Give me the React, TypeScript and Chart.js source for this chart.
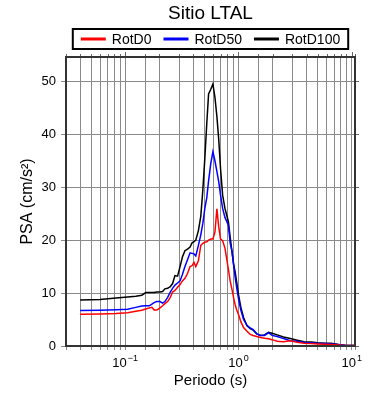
import React, { useEffect, useRef } from "react";
import { Chart, registerables } from "chart.js";

Chart.register(...registerables);

const TITLE = "Sitio LTAL";
const X_TITLE = "Periodo (s)";
const Y_TITLE = "PSA (cm/s²)";
const SERIES_LABELS = ["RotD0", "RotD50", "RotD100"];
const SERIES_COLORS = ["#ff0000", "#0000ff", "#000000"];

const periods = [
  0.04, 0.06, 0.083, 0.105, 0.124, 0.14, 0.152, 0.163, 0.172, 0.18,
  0.19, 0.203, 0.214, 0.224, 0.237, 0.25, 0.262, 0.275, 0.29, 0.305,
  0.32, 0.337, 0.355, 0.374, 0.39, 0.405, 0.42, 0.443, 0.465, 0.485,
  0.505, 0.525, 0.545, 0.57, 0.595, 0.62, 0.645, 0.67, 0.695, 0.725,
  0.76, 0.79, 0.815, 0.845, 0.875, 0.905, 0.935, 0.966, 1.0, 1.05,
  1.11, 1.19, 1.27, 1.35, 1.45, 1.57, 1.7, 1.84, 1.98, 2.2,
  2.5, 2.87, 3.3, 3.8, 4.4, 5.0, 5.8, 6.6, 7.6, 8.7,
  10.0, 11.0,
];

const rotD0 = [
  6.0, 6.05, 6.15, 6.3, 6.55, 6.75, 7.0, 7.2, 7.3, 6.8,
  6.8, 7.2, 7.6, 8.0, 8.4, 9.2, 10.2, 10.5, 11.1, 11.6,
  12.3, 12.8, 13.7, 15.0, 15.2, 15.8, 15.0, 16.1, 19.0, 19.4,
  19.6, 19.7, 20.0, 20.2, 20.2, 21.5, 25.9, 22.5, 20.2, 19.9,
  18.5, 16.3, 14.5, 12.3, 10.8, 9.2, 7.8, 6.8, 6.0, 4.6,
  3.5, 2.8, 2.2, 2.0, 1.8, 1.6, 1.45, 1.35, 1.2, 0.9,
  0.8, 1.0, 0.7, 0.5, 0.45, 0.4, 0.35, 0.3, 0.2, 0.1,
  0.1, 0.1,
];

const rotD50 = [
  6.7, 6.75, 6.85, 6.95, 7.3, 7.55, 7.6, 7.6, 7.9, 8.2,
  8.4, 8.4, 8.1, 8.4, 9.2, 10.2, 10.9, 11.5, 11.9, 12.3,
  13.5, 15.0, 16.3, 17.6, 17.5, 17.4, 17.0, 19.0, 21.0, 23.2,
  26.0, 28.0, 31.2, 34.5, 36.7, 35.0, 33.0, 31.0, 28.5, 26.0,
  24.3, 23.5, 22.8, 19.5, 18.0, 15.5, 13.0, 11.0, 9.0, 6.8,
  5.0, 3.9, 3.4, 3.1, 2.3, 2.0, 2.0, 2.5, 2.0, 1.8,
  1.4, 1.0, 0.9, 0.65, 0.6, 0.5, 0.45, 0.4, 0.3, 0.15,
  0.1, 0.1,
];

const rotD100 = [
  8.7, 8.8, 9.05, 9.25, 9.4, 9.6, 10.1, 10.1, 10.1, 10.1,
  10.2, 10.2, 10.3, 10.8, 10.9, 11.2, 11.8, 13.3, 13.2, 15.0,
  16.8, 18.0, 18.3, 18.7, 19.5, 19.7, 20.0, 21.8, 24.5, 29.5,
  35.5, 42.0, 47.6, 48.5, 49.5, 47.0, 43.4, 39.0, 33.5, 28.5,
  26.0, 24.6, 23.5, 20.6, 18.0, 15.5, 14.0, 12.0, 9.8, 7.3,
  5.4, 3.8, 3.3, 3.0, 2.3, 2.0, 2.1, 2.6, 2.4, 2.1,
  1.7, 1.4, 1.1, 0.8, 0.75, 0.6, 0.5, 0.5, 0.3, 0.15,
  0.1, 0.1,
];

const seriesValues = [rotD0, rotD50, rotD100];

const X_MIN = 0.03;
const X_MAX = 10.7;
const Y_MIN = 0;
const Y_MAX = 54.6;
const Y_STEP = 10;

const X_TICK_BASE = "10";

const FONT = "'Liberation Sans', Arial, Helvetica, sans-serif";

function isDecade(v: number) {
  const l = Math.log10(v);
  return Math.abs(l - Math.round(l)) < 1e-9;
}

function exponentText(v: number) {
  const e = Math.round(Math.log10(v));
  return e < 0 ? "\u2212" + String(-e) : String(e);
}

const decorPlugin = {
  id: "decor",
  afterDraw(chart: any) {
    const { ctx, chartArea: ca } = chart;
    const xs = chart.scales.x;
    const ys = chart.scales.y;
    ctx.save();

    // top ticks
    ctx.strokeStyle = "#666";
    ctx.lineWidth = 1;
    xs.ticks.forEach((t: any) => {
      const px = Math.round(xs.getPixelForValue(t.value)) + 0.5;
      const len = isDecade(t.value) ? 5 : 3;
      ctx.beginPath();
      ctx.moveTo(px, ca.top);
      ctx.lineTo(px, ca.top - len);
      ctx.stroke();
    });
    // right ticks
    ys.ticks.forEach((t: any) => {
      const py = Math.round(ys.getPixelForValue(t.value)) + 0.5;
      ctx.beginPath();
      ctx.moveTo(ca.right, py);
      ctx.lineTo(ca.right + 4, py);
      ctx.stroke();
    });

    // frame
    ctx.strokeStyle = "#333";
    ctx.lineWidth = 2;
    ctx.strokeRect(ca.left, ca.top, ca.right - ca.left, ca.bottom - ca.top);

    // x decade labels with superscript exponent
    ctx.fillStyle = "#000";
    ctx.textBaseline = "alphabetic";
    ctx.textAlign = "left";
    xs.ticks.forEach((t: any) => {
      if (!isDecade(t.value)) return;
      const px = xs.getPixelForValue(t.value);
      const exp = exponentText(t.value);
      ctx.font = `13px ${FONT}`;
      const wb = ctx.measureText(X_TICK_BASE).width;
      ctx.font = `9px ${FONT}`;
      const we = ctx.measureText(exp).width;
      const sx = px - (wb + we + 1) / 2;
      ctx.font = `13px ${FONT}`;
      ctx.fillText(X_TICK_BASE, sx, ca.bottom + 21);
      ctx.font = `9px ${FONT}`;
      ctx.fillText(exp, sx + wb + 1, ca.bottom + 15);
    });

    const cx = (ca.left + ca.right) / 2;

    // title
    ctx.fillStyle = "#000";
    ctx.font = `19px ${FONT}`;
    ctx.textAlign = "center";
    ctx.textBaseline = "middle";
    ctx.fillText(TITLE, cx, 14);

    // legend
    ctx.font = `14px ${FONT}`;
    const lineLen = 25;
    const gap = 6;
    const itemGap = 12;
    const datasets = chart.data.datasets;
    const widths = datasets.map(
      (d: any) => lineLen + gap + ctx.measureText(d.label).width
    );
    const total =
      widths.reduce((a: number, b: number) => a + b, 0) +
      itemGap * (datasets.length - 1);
    let x0 = cx - total / 2;
    const ly = 39;
    ctx.strokeStyle = "#000";
    ctx.lineWidth = 2;
    ctx.strokeRect(x0 - 8, 29, total + 16, 20);
    ctx.textAlign = "left";
    datasets.forEach((d: any, i: number) => {
      ctx.strokeStyle = d.borderColor;
      ctx.lineWidth = 3;
      ctx.beginPath();
      ctx.moveTo(x0, ly);
      ctx.lineTo(x0 + lineLen, ly);
      ctx.stroke();
      ctx.fillStyle = "#000";
      ctx.fillText(d.label, x0 + lineLen + gap, ly + 1);
      x0 += widths[i] + itemGap;
    });

    ctx.restore();
  },
};

export default function App() {
  const canvasRef = useRef<HTMLCanvasElement | null>(null);

  useEffect(() => {
    document.body.style.margin = "0";
    const canvas = canvasRef.current;
    if (!canvas) return;
    const chart = new Chart(canvas, {
      type: "line",
      data: {
        datasets: SERIES_LABELS.map((label, i) => ({
          label,
          data: periods.map((p, j) => ({ x: p, y: seriesValues[i][j] })),
          borderColor: SERIES_COLORS[i],
          backgroundColor: SERIES_COLORS[i],
          borderWidth: 1.5,
          pointRadius: 0,
          tension: 0,
          fill: false,
        })),
      },
      options: {
        responsive: false,
        animation: false,
        devicePixelRatio: 1,
        layout: { padding: { top: 57, right: 35, bottom: 0, left: 0 } },
        plugins: {
          legend: { display: false },
          title: { display: false },
          tooltip: { enabled: false },
        },
        scales: {
          x: {
            type: "logarithmic",
            min: X_MIN,
            max: X_MAX,
            afterFit: (scale: any) => {
              scale.height = 54;
            },
            grid: {
              color: "#8a8a8a",
              lineWidth: 1,
              drawTicks: true,
              tickLength: 4,
              tickColor: "#8a8a8a",
            },
            border: { display: false },
            ticks: {
              autoSkip: false,
              maxRotation: 0,
              minRotation: 0,
              padding: 5,
              color: "#000",
              font: { family: FONT, size: 12 },
              callback: () => "",
            },
            title: {
              display: true,
              text: X_TITLE,
              color: "#000",
              font: { family: FONT, size: 15 },
              padding: { top: 0, bottom: 10 },
            },
          },
          y: {
            type: "linear",
            min: Y_MIN,
            max: Y_MAX,
            afterFit: (scale: any) => {
              scale.width = 66;
            },
            grid: {
              color: "#8a8a8a",
              lineWidth: 1,
              drawTicks: true,
              tickLength: 5,
              tickColor: "#8a8a8a",
            },
            border: { display: false },
            ticks: {
              stepSize: Y_STEP,
              includeBounds: false,
              padding: 5,
              color: "#000",
              font: { family: FONT, size: 13 },
            },
            title: {
              display: true,
              text: Y_TITLE,
              color: "#000",
              font: { family: FONT, size: 16 },
              padding: { top: 18, bottom: 0 },
            },
          },
        },
      },
      plugins: [decorPlugin],
    } as any);
    return () => chart.destroy();
  }, []);

  return (
    <div style={{ position: "absolute", left: 0, top: 0, width: 390, height: 400, background: "#fff" }}>
      <canvas ref={canvasRef} width={390} height={400} />
    </div>
  );
}
